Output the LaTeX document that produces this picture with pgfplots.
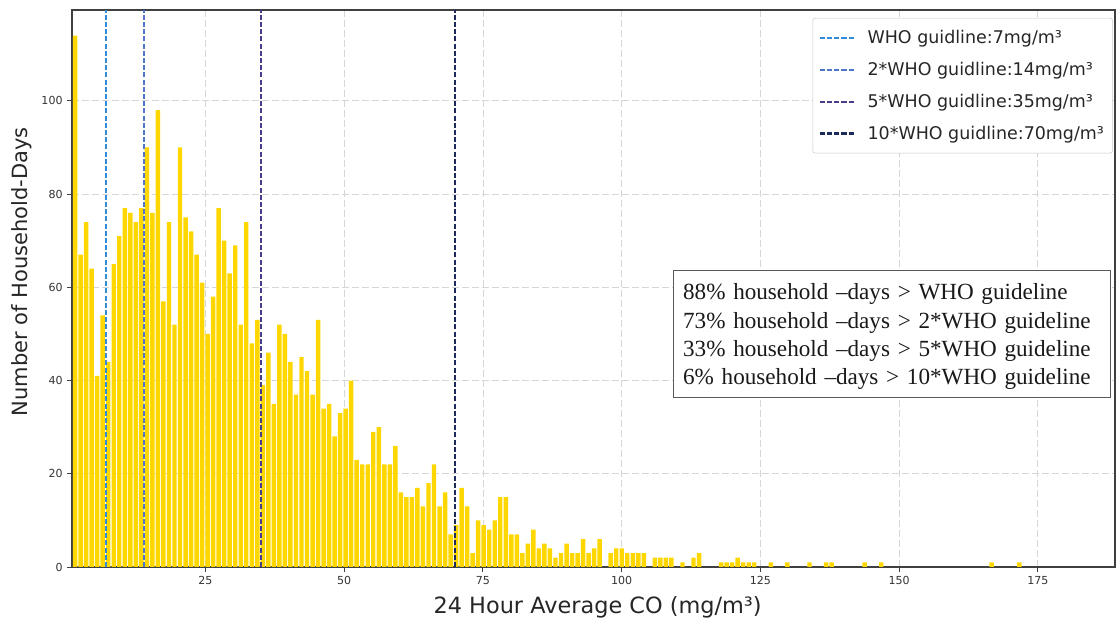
\documentclass[border=0pt]{standalone}
\usepackage{fontspec}
\setmainfont{DejaVu Sans}
\newfontfamily\timesfont{Liberation Serif}
\usepackage{pgfplots}
\pgfplotsset{compat=1.18}
\usepackage{pgfplotstable}
\definecolor{bargold}{RGB}{255,215,0}
\definecolor{cA}{RGB}{52,140,214}
\definecolor{cB}{RGB}{78,118,200}
\definecolor{cC}{RGB}{72,60,140}
\definecolor{cD}{RGB}{30,42,90}

\pgfplotstableread{
bin n
1 114
2 67
3 74
4 64
5 41
6 54
7 44
8 65
9 71
10 77
11 76
12 74
13 77
14 90
15 76
16 98
17 57
18 74
19 52
20 90
21 75
22 72
23 67
24 61
25 50
26 58
27 77
28 70
29 63
30 69
31 52
32 74
33 48
34 53
35 39
36 46
37 35
38 52
39 50
40 44
41 37
42 45
43 42
44 37
45 53
46 34
47 35
48 28
49 33
50 34
51 40
52 23
53 22
54 22
55 29
56 30
57 22
58 22
59 26
60 16
61 15
62 15
63 17
64 13
65 18
66 22
67 13
68 16
69 7
70 9
71 17
72 13
73 3
74 10
75 9
76 8
77 10
78 15
79 15
80 7
81 7
82 3
83 5
84 8
85 4
86 5
87 4
88 2
89 3
90 5
91 3
92 3
93 6
94 3
95 4
96 6
98 3
99 4
100 4
101 3
102 3
103 3
104 3
106 2
107 2
108 2
109 2
111 1
113 2
114 3
118 1
119 1
120 1
121 2
122 1
123 1
124 1
127 1
130 1
134 1
137 1
138 1
144 1
147 1
167 1
172 1
}\histdata

\begin{document}
\begin{tikzpicture}
\begin{axis}[
  name=ax,
  scale only axis,
  width=782.25pt, height=417.75pt,
  xmin=0.95, xmax=188.9, ymin=0, ymax=119.5,
  xtick={25,50,75,100,125,150,175},
  ytick={0,20,40,60,80,100},
  grid=major,
  major grid style={black!16, dash pattern=on 5pt off 2.5pt, line width=0.6pt},
  axis line style={black!75, line width=0.9pt},
  tick align=outside,
  major tick length=3.5pt,
  tick style={black!75, line width=0.7pt},
  xtick pos=bottom, ytick pos=left,
  /pgf/number format/assume math mode=true,
  ticklabel style={font=\fontsize{8.3}{9.5}\selectfont, text=black!80},
  xlabel={24 Hour Average CO (mg/m³)},
  ylabel={Number of Household-Days},
  every axis x label/.style={at={(axis description cs:0.504,-0.072)}, anchor=center, font=\fontsize{16.8}{19}\selectfont, text=black!85},
  every axis y label/.style={at={(axis description cs:-0.048,0.53)}, rotate=90, anchor=center, font=\fontsize{15.75}{18}\selectfont, text=black!85},
  legend style={at={(axis description cs:0.998,0.986)}, anchor=north east,
    draw=black!22, rounded corners=2pt, fill=white,
    font=\fontsize{13.1}{15.5}\selectfont, text=black!85,
    row sep=8.5pt, inner xsep=4.5pt, inner ysep=7pt,
    /tikz/every odd column/.append style={column sep=7pt}},
  legend cell align=left,
  legend image code/.code={\draw[#1] (0pt,0pt) -- (26pt,0pt);},
]
\addplot[ybar, bar width=0.8, bar shift=0pt, fill=bargold, draw=none, forget plot]
  table[x expr=\thisrow{bin}*0.995+0.515, y=n] {\histdata};

\addplot[cA, line width=1.6pt, dash pattern=on 3.8pt off 1.6pt] coordinates {(7,0) (7,119.5)};
\addlegendentry{WHO guidline:7mg/m³}
\addplot[cB, line width=1.6pt, dash pattern=on 3.8pt off 1.6pt] coordinates {(14,0) (14,119.5)};
\addlegendentry{2*WHO guidline:14mg/m³}
\addplot[cC, line width=1.6pt, dash pattern=on 3.8pt off 1.6pt] coordinates {(35,0) (35,119.5)};
\addlegendentry{5*WHO guidline:35mg/m³}
\addplot[cD, line width=1.6pt, dash pattern=on 3.8pt off 1.6pt] coordinates {(70,0) (70,119.5)};
\addlegendentry{10*WHO guidline:70mg/m³}

\node[draw=black!65, line width=0.6pt, fill=white, anchor=north west, align=left,
  inner xsep=7.5pt, inner ysep=5.5pt, text width=313pt,
  font=\timesfont\fontsize{17.35}{21.2}\selectfont, text=black!90]
  at (axis description cs:0.576,0.534)
  {\rule{0pt}{17pt}88\% household –days > WHO guideline\\
   73\% household –days > 2*WHO guideline\\
   33\% household –days > 5*WHO guideline\\
   6\% household –days > 10*WHO guideline};
\end{axis}
\pgfresetboundingbox
\path[use as bounding box] ([shift={(-54pt,-40.5pt)}]ax.south west) rectangle ([shift={(2.25pt,7.5pt)}]ax.north east);
\end{tikzpicture}
\end{document}
